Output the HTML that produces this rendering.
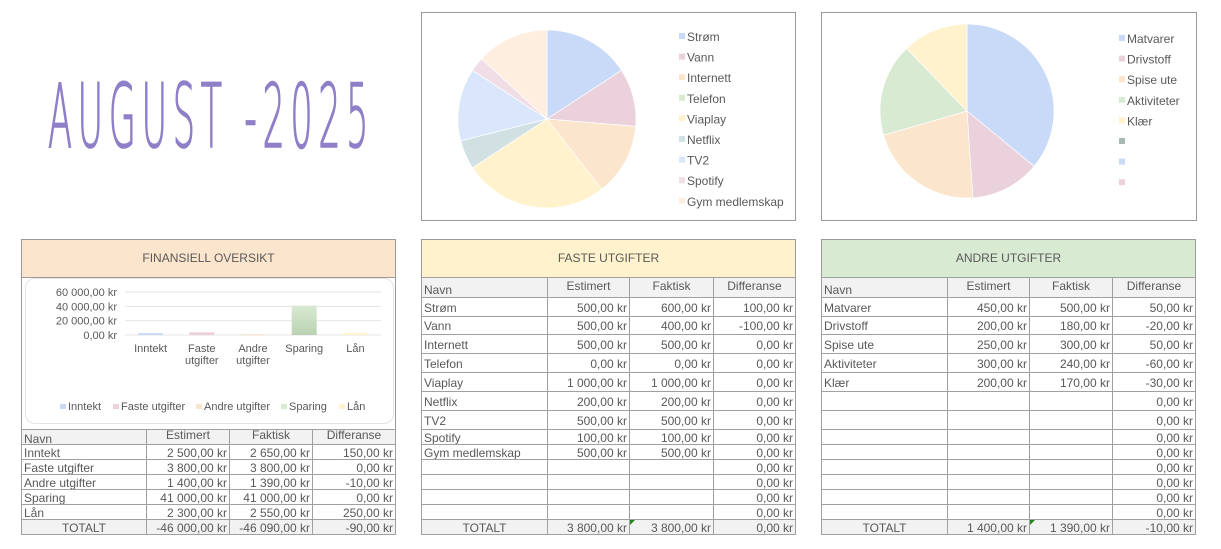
<!DOCTYPE html>
<html><head><meta charset="utf-8">
<style>
body{margin:0;width:1221px;height:549px;background:#fff;position:relative;overflow:hidden;font-family:"Liberation Sans",Arial,sans-serif;color:#595959}
.abs{position:absolute}
.box{position:absolute;border:1px solid #9a9a9a;box-sizing:border-box}
.hdr{position:absolute;box-sizing:border-box;border:1px solid #9a9a9a;text-align:center;font-size:12px;color:#595959;line-height:36px}
.cell{position:absolute;box-sizing:border-box;font-size:12px;white-space:nowrap;overflow:hidden;padding:0 2px;color:#595959}
</style></head><body>

<svg class="abs" style="left:40px;top:70px" width="340" height="85">
<text x="8" y="77" textLength="326" lengthAdjust="spacingAndGlyphs" font-family="DejaVu Sans, Liberation Sans, sans-serif" font-size="88" fill="#8f7fc8" stroke="#8f7fc8" stroke-width="1.6" font-weight="200" style="letter-spacing:14px">AUGUST -2025</text>
</svg>

<div class="box" style="left:421px;top:12px;width:375px;height:209px"><svg id="pie1" width="373" height="207"></svg></div>
<div class="box" style="left:821px;top:12px;width:376px;height:209px"><svg id="pie2" width="374" height="207"></svg></div>

<div class="hdr" style="left:21px;top:239px;width:375px;height:39px;background:#fce5cd;line-height:37px">FINANSIELL OVERSIKT</div>
<div class="box" style="left:21px;top:277px;width:375px;height:153px;border-top:none;border-bottom:none"></div>
<div class="abs" style="left:25px;top:278px;width:369px;height:146px;border:1px solid #e4e4e4;border-radius:10px;box-sizing:border-box"><svg id="bar" width="369" height="146"></svg></div>

<div class="hdr" style="left:421px;top:239px;width:375px;height:39px;background:#fff2cc;line-height:37px">FASTE UTGIFTER</div>
<div class="hdr" style="left:821px;top:239px;width:375px;height:39px;background:#d9ead3;line-height:37px">ANDRE UTGIFTER</div>

<div id="tables"></div>

<script>
// ---- pie 1 data ----
const pie1Labels=["Strøm","Vann","Internett","Telefon","Viaplay","Netflix","TV2","Spotify","Gym medlemskap"];
const pie1Values=[600,400,500,0,1000,200,500,100,500];
const pie1Colors=["#c9daf8","#ead1dc","#fce5cd","#d9ead3","#fff2cc","#d0e0e3","#d9e6fb","#f0dde6","#fdeee0"];
// ---- pie 2 data ----
const pie2Labels=["Matvarer","Drivstoff","Spise ute","Aktiviteter","Klær","","",""];
const pie2Values=[500,180,300,240,170,0,0,0];
const pie2Colors=["#c9daf8","#ead1dc","#fce5cd","#d9ead3","#fff2cc","#a8b9b5","#c9daf8","#ead1dc"];
// ---- bar data ----
const barCategories=[["Inntekt"],["Faste","utgifter"],["Andre","utgifter"],["Sparing"],["Lån"]];
const barValues=[2650,3800,1390,41000,2550];
const barColors=["#c9daf8","#ead1dc","#fce5cd","#d9ead3","#fff2cc"];
const barTicks=[0,20000,40000,60000];
const barTickLabels=["0,00 kr","20 000,00 kr","40 000,00 kr","60 000,00 kr"];
const legendLabels=["Inntekt","Faste utgifter","Andre utgifter","Sparing","Lån"];

const NS="http://www.w3.org/2000/svg";
function mk(p,t,a){const e=document.createElementNS(NS,t);for(const k in a)e.setAttribute(k,a[k]);p.appendChild(e);return e;}

function pie(id,labels,values,colors,cx,cy,r,lx,ly,name){
  const s=document.getElementById(id);
  const tot=values.reduce((a,b)=>a+b,0);
  let a0=-Math.PI/2;
  values.forEach((v,i)=>{
    if(v<=0)return;
    const a1=a0+v/tot*2*Math.PI;
    const x0=cx+r*Math.cos(a0),y0=cy+r*Math.sin(a0),x1=cx+r*Math.cos(a1),y1=cy+r*Math.sin(a1);
    const p=mk(s,"path",{d:`M${cx},${cy}L${x0},${y0}A${r},${r} 0 ${a1-a0>Math.PI?1:0} 1 ${x1},${y1}Z`,fill:colors[i],stroke:"#fff","stroke-width":"0.7"});
    
    
    a0=a1;
  });
  labels.forEach((l,i)=>{
    const y=ly+i*20.6;
    const q=mk(s,"rect",{x:lx,y:y-4,width:6,height:6,fill:colors[i]});
    
    
    const t=mk(s,"text",{x:lx+8,y:y+4,"font-size":"12",fill:"#595959"});
    t.textContent=l;
    
    
  });
}
pie("pie1",pie1Labels,pie1Values,pie1Colors,125,106,89,257,24,"fixed-costs");
pie("pie2",pie2Labels,pie2Values,pie2Colors,145,98,87,297,26,"other-costs");

// bar chart (svg origin at 25,278)
(function(){
  const s=document.getElementById('bar');
  const x0=99,x1=355,yTop=13,yBot=56,max=60000;
  const y=v=>yBot-(v/max)*(yBot-yTop);
  const bw=(x1-x0)/barValues.length;
  const defs=mk(s,"defs",{});
  barTicks.forEach((t,i)=>{
    const g=mk(s,"line",{x1:x0,x2:x1,y1:y(t),y2:y(t),stroke:"#e6e6e6","stroke-width":"1"});
    
    
    const tl=mk(s,"text",{x:x0-8,y:y(t)+4,"text-anchor":"end","font-size":"11",fill:"#595959"});
    tl.textContent=barTickLabels[i];
    
    
  });
  barValues.forEach((v,i)=>{
    const gr=mk(defs,"linearGradient",{id:"g"+i,x1:0,y1:0,x2:0,y2:1});
    mk(gr,"stop",{offset:"0","stop-color":barColors[i]});
    mk(gr,"stop",{offset:"1","stop-color":i==3?"#b9d2b0":barColors[i]});
    const cx=x0+bw*(i+0.5);
    const b=mk(s,"rect",{x:cx-12.5,y:y(v),width:25,height:Math.max(1,yBot-y(v)),fill:"url(#g"+i+")"});
    
    
    barCategories[i].forEach((ln,j)=>{
      const t=mk(s,"text",{x:cx,y:73+j*12,"text-anchor":"middle","font-size":"11",fill:"#595959"});
      t.textContent=ln;
      
      
    });
  });
  const lx=[34,87,170,255,313];
  legendLabels.forEach((l,i)=>{
    const q=mk(s,"rect",{x:lx[i],y:125,width:6,height:5,fill:barColors[i]});
    
    
    const t=mk(s,"text",{x:lx[i]+8,y:131,"font-size":"11",fill:"#595959"});
    t.textContent=l;
    
    
  });
})();

// tables
const hdrRow=["Navn","Estimert","Faktisk","Differanse"];
const ovRows=[["Inntekt","2 500,00 kr","2 650,00 kr","150,00 kr"],["Faste utgifter","3 800,00 kr","3 800,00 kr","0,00 kr"],["Andre utgifter","1 400,00 kr","1 390,00 kr","-10,00 kr"],["Sparing","41 000,00 kr","41 000,00 kr","0,00 kr"],["Lån","2 300,00 kr","2 550,00 kr","250,00 kr"],["TOTALT","-46 000,00 kr","-46 090,00 kr","-90,00 kr"]];
const fxRows=[["Strøm","500,00 kr","600,00 kr","100,00 kr"],["Vann","500,00 kr","400,00 kr","-100,00 kr"],["Internett","500,00 kr","500,00 kr","0,00 kr"],["Telefon","0,00 kr","0,00 kr","0,00 kr"],["Viaplay","1 000,00 kr","1 000,00 kr","0,00 kr"],["Netflix","200,00 kr","200,00 kr","0,00 kr"],["TV2","500,00 kr","500,00 kr","0,00 kr"],["Spotify","100,00 kr","100,00 kr","0,00 kr"],["Gym medlemskap","500,00 kr","500,00 kr","0,00 kr"],["","","","0,00 kr"],["","","","0,00 kr"],["","","","0,00 kr"],["","","","0,00 kr"],["TOTALT","3 800,00 kr","3 800,00 kr","0,00 kr"]];
const otRows=[["Matvarer","450,00 kr","500,00 kr","50,00 kr"],["Drivstoff","200,00 kr","180,00 kr","-20,00 kr"],["Spise ute","250,00 kr","300,00 kr","50,00 kr"],["Aktiviteter","300,00 kr","240,00 kr","-60,00 kr"],["Klær","200,00 kr","170,00 kr","-30,00 kr"],["","","","0,00 kr"],["","","","0,00 kr"],["","","","0,00 kr"],["","","","0,00 kr"],["","","","0,00 kr"],["","","","0,00 kr"],["","","","0,00 kr"],["","","","0,00 kr"],["TOTALT","1 400,00 kr","1 390,00 kr","-10,00 kr"]];
const T=document.getElementById('tables');
function table(name,cols,ys,rows,blackAfter){
  const all=[hdrRow].concat(rows);
  all.forEach((r,ri)=>{
    const top=ys[ri],h=ys[ri+1]-ys[ri];
    const isH=ri==0,isT=ri==all.length-1;
    r.forEach((c,ci)=>{
      const d=document.createElement('div');
      d.className='cell';
      
      
      const L=cols[ci],W=cols[ci+1]-cols[ci];
      let st=`left:${L}px;top:${top}px;width:${W+1}px;height:${h+1}px;line-height:${h+1}px;border:1px solid #a0a0a0;`;
      if(isH||isT)st+='background:#f2f2f2;';
      if(isH){st+='border-bottom:1px solid #000;line-height:'+(h-4)+'px;text-align:'+(ci==0?'left':'center')+';';if(ci==0)st+='line-height:'+(h+4)+'px;';}
      else if(isT)st+='text-align:'+(ci==0?'center':'right')+';';
      else st+='text-align:'+(ci==0?'left':'right')+';';
      if(blackAfter!=null&&ri==blackAfter&&ci<3)st+='border-bottom:1px solid #000;';
      d.style.cssText=st;
      d.textContent=c;
      T.appendChild(d);
      if(isT&&ci==2&&name!='overview'){
        const g=document.createElement('div');
        
        
        g.style.cssText=`position:absolute;left:${L+1}px;top:${top+1}px;width:0;height:0;border-top:5px solid #1a8a1a;border-right:5px solid transparent`;
        T.appendChild(g);
      }
    });
  });
}
table('overview',[21,146,229,312,395],[429,444,459,474,489,504,519,534],ovRows,null);
const ys=[277,297,316,334,353,372,391,410,429,444,459,474,489,504,519,534];
table('fixed-costs',[421,547,629,713,795],ys,fxRows,5);
table('other-costs',[821,947,1029,1112,1195],ys,otRows,null);
</script>
</body></html>
